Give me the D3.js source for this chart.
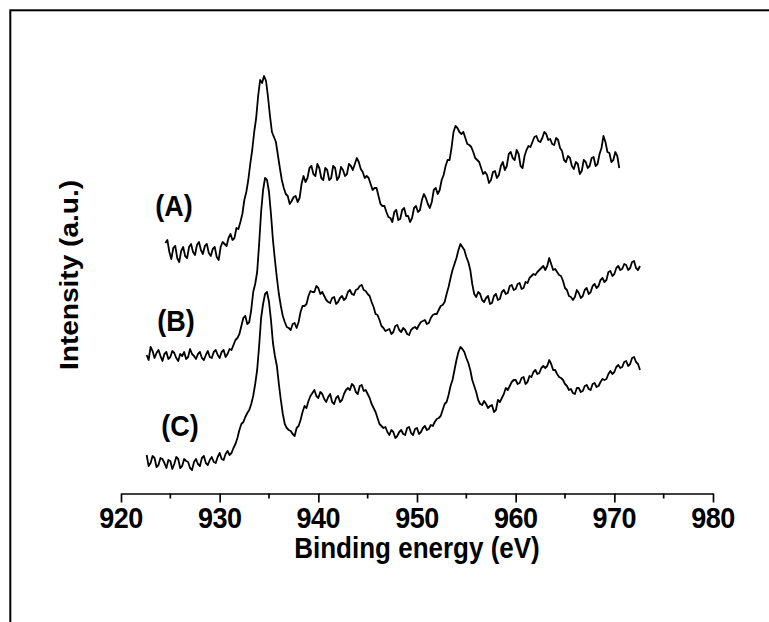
<!DOCTYPE html>
<html>
<head>
<meta charset="utf-8">
<script src="https://cdn.jsdelivr.net/npm/d3@7"></script>
<style>
  html, body { margin: 0; padding: 0; background: #fff; }
  svg { display: block; }
  text { font-family: "Liberation Sans", Arial, Helvetica, sans-serif; font-weight: bold; fill: #000; }
</style>
</head>
<body>
<svg id="chart" width="769" height="622"></svg>
<script>
// Cu 2p spectra, binding energy grid (eV): first point and step of each trace
const energyStartA = 924.5, energyStartB = 922.6, energyStartC = 922.6;
const energyStep = 0.2;

// Intensities (a.u.), the three traces stacked with vertical offsets
const seriesA = [237,240,228,221,232,234,222,218,229,233,224,222,233,236,228,225,235,238,230,226,
  234,236,227,224,231,233,223,220,233,238,236,234,242,246,240,242,252,251,258,266,
  280,288,300,316,330,348,362,384,400,397,404,399,383,364,348,343,338,325,312,300,
  292,286,284,276,279,283,284,278,282,296,304,298,302,312,314,306,304,316,312,302,
  300,312,310,300,302,314,312,300,303,313,310,304,306,316,314,310,316,322,318,311,
  308,302,304,302,296,290,292,292,284,276,274,274,268,263,262,258,268,270,260,261,
  270,272,264,264,258,262,272,274,268,270,280,286,282,276,272,278,290,292,286,290,
  300,305,314,320,320,332,348,354,352,348,346,348,342,336,335,333,328,322,320,318,
  312,306,308,305,297,300,308,309,302,305,314,318,310,314,326,328,322,320,330,326,
  314,312,324,330,334,333,338,343,344,339,338,342,348,346,340,341,336,335,342,340,
  332,329,320,318,324,322,314,311,318,316,306,309,320,318,312,314,322,323,314,316,
  326,332,344,338,328,327,318,320,328,324,312];

const seriesB = [125,120,133,129,122,127,130,124,119,126,128,121,123,129,127,122,119,126,124,128,
  121,123,131,126,124,121,126,128,122,120,125,129,123,122,128,130,125,122,128,130,
  123,126,131,130,135,140,142,146,154,162,164,156,158,170,188,196,208,236,268,290,
  302,300,288,266,240,220,202,186,174,164,158,153,152,150,156,157,152,158,168,174,
  174,176,184,189,188,188,194,192,186,188,184,180,178,177,182,183,176,178,182,184,
  180,182,188,190,186,185,190,191,194,195,190,189,186,184,178,173,166,165,160,154,
  152,149,150,151,146,148,154,155,150,148,152,150,146,145,150,152,153,151,155,158,
  159,160,156,157,162,165,166,166,170,174,175,178,186,193,202,210,216,222,230,236,
  233,230,223,218,210,196,186,183,188,186,180,178,182,184,176,177,184,186,180,181,
  188,190,186,187,194,195,190,191,196,197,191,192,198,197,202,204,206,205,208,210,
  212,214,210,214,222,216,210,211,208,205,204,199,192,190,184,183,180,183,190,187,
  182,184,190,192,186,188,194,196,192,194,200,202,198,200,208,209,204,206,212,214,
  210,211,216,215,210,212,218,219,212,210,214];

const seriesC = [25,14,17,24,22,13,15,22,21,17,12,20,19,11,16,23,21,12,14,21,
  19,18,12,10,18,21,16,14,22,24,17,15,20,23,18,17,23,27,21,20,
  26,29,25,27,32,36,42,50,56,58,63,67,70,76,84,96,110,134,162,176,
  186,188,178,160,137,124,114,96,80,66,56,52,50,49,46,44,52,54,60,68,
  74,72,79,84,87,90,84,82,88,86,81,78,83,86,78,76,82,84,78,80,
  86,90,92,90,96,94,88,86,94,95,89,90,86,82,76,72,68,62,56,54,
  52,53,48,45,50,48,42,44,48,50,46,45,52,53,47,45,51,52,46,48,
  52,54,50,51,55,54,58,61,62,64,70,76,78,85,94,100,110,120,128,133,
  131,128,122,117,110,100,94,88,80,76,75,79,76,72,74,75,68,70,80,78,
  82,86,92,90,94,98,100,100,96,97,102,103,96,98,104,103,108,110,106,107,
  112,114,112,114,120,116,110,110,106,103,102,100,96,94,90,91,87,86,92,92,
  88,89,94,95,91,90,96,97,93,94,98,101,100,101,106,109,106,108,113,115,
  112,113,118,119,114,116,122,123,118,116,110];

const traceLabels = ["(A)", "(B)", "(C)"];
const xTicks = [920, 930, 940, 950, 960, 970, 980];
const xMinorTicks = [925, 935, 945, 955, 965, 975];
const xTitle = "Binding energy (eV)";
const yTitle = "Intensity (a.u.)";

const svg = d3.select("#chart");
const stretch = 1.1;   // glyphs are drawn slightly tall

const x = d3.scaleLinear().domain([920, 980]).range([121, 713]);
const y = d3.scaleLinear().domain([0, 420]).range([480, 60]);

// outer frame (runs off the right and bottom edges)
svg.append("rect")
  .attr("x", 10.3).attr("y", 10.3)
  .attr("width", 1000).attr("height", 1000)
  .attr("fill", "none").attr("stroke", "#000").attr("stroke-width", 2);

function toPoints(start, values) {
  return values.map((v, i) => [start + i * energyStep, v]);
}

const traces = [
  { label: traceLabels[0], pts: toPoints(energyStartA, seriesA), lx: 174, ly: 216 },
  { label: traceLabels[1], pts: toPoints(energyStartB, seriesB), lx: 176, ly: 331 },
  { label: traceLabels[2], pts: toPoints(energyStartC, seriesC), lx: 180, ly: 436 }
];

const line = d3.line().x(d => x(d[0])).y(d => y(d[1]));

svg.append("g").selectAll("path").data(traces).join("path")
  .attr("d", d => line(d.pts))
  .attr("fill", "none")
  .attr("stroke", "#000")
  .attr("stroke-width", 1.8)
  .attr("stroke-linejoin", "round");

svg.append("g").selectAll("text").data(traces).join("text")
  .attr("transform", d => `translate(${d.lx},${d.ly}) scale(1,${stretch})`)
  .attr("text-anchor", "middle")
  .style("font-size", "27px")
  .text(d => d.label);

// x axis
const axisY = 493.5;
const gx = svg.append("g").attr("transform", `translate(0,${axisY})`)
  .call(d3.axisBottom(x).tickValues(xTicks).tickSize(9).tickSizeOuter(0).tickFormat(d3.format("d")));
gx.select(".domain").attr("stroke", "#000").attr("stroke-width", 1.7);
gx.selectAll(".tick line").attr("stroke", "#000").attr("stroke-width", 1.7);
gx.selectAll(".tick text").remove();

gx.selectAll(".minor").data(xMinorTicks).join("line")
  .attr("class", "minor")
  .attr("x1", d => x(d)).attr("x2", d => x(d))
  .attr("y1", 0).attr("y2", 5)
  .attr("stroke", "#000").attr("stroke-width", 1.7);

svg.append("g").selectAll("text").data(xTicks).join("text")
  .attr("transform", d => `translate(${x(d)},528) scale(1,${stretch})`)
  .attr("text-anchor", "middle")
  .style("font-size", "27px")
  .style("letter-spacing", "-0.5px")
  .text(d => d);

svg.append("text")
  .attr("transform", `translate(417,558) scale(1,${stretch})`)
  .attr("text-anchor", "middle")
  .style("font-size", "26px")
  .text(xTitle);

svg.append("text")
  .attr("transform", `translate(78,275) scale(1,${stretch}) rotate(-90)`)
  .attr("text-anchor", "middle")
  .style("font-size", "25.5px")
  .text(yTitle);
</script>
</body>
</html>
